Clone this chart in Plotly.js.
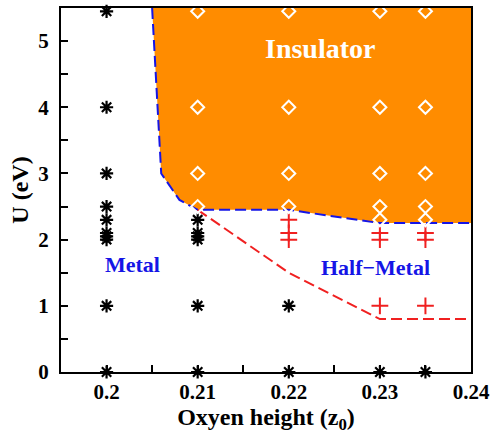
<!DOCTYPE html>
<html>
<head>
<meta charset="utf-8">
<script src="https://cdn.plot.ly/plotly-3.0.1.min.js"></script>
<style>html,body{margin:0;padding:0;background:#fff;}#chart{width:492px;height:436px;}</style>
</head>
<body>
<div id="chart"></div>
<script>
// Metal (asterisks)
var metalX = [0.2,0.2,0.2,0.2,0.2,0.2,0.2,0.2,0.2,0.2, 0.21,0.21,0.21,0.21,0.21,0.21, 0.22,0.22, 0.23, 0.235];
var metalU = [0,1,2.0,2.05,2.1,2.3,2.5,3,4,5.45, 0,1,2.0,2.05,2.1,2.3, 0,1, 0, 0];
// Half-metal (red plus)
var halfX = [0.22,0.22,0.22, 0.23,0.23,0.23, 0.235,0.235,0.235];
var halfU = [2.0,2.1,2.3, 1,2.0,2.1, 1,2.0,2.1];
// Insulator (white diamonds)
var insX = [0.21,0.21,0.21,0.21, 0.22,0.22,0.22,0.22, 0.23,0.23,0.23,0.23,0.23, 0.235,0.235,0.235,0.235,0.235];
var insU = [2.5,3,4,5.45, 2.5,3,4,5.45, 2.3,2.5,3,4,5.45, 2.3,2.5,3,4,5.45];
// Insulator boundary (blue dashed)
var blueX = [0.205,0.206,0.208,0.2095,0.21,0.22,0.23,0.24];
var blueU = [5.5,3.0,2.6,2.48,2.45,2.45,2.25,2.25];
// Half-metal / metal boundary (red dashed)
var redX = [0.21,0.22,0.23,0.24];
var redU = [2.45,1.5,0.8,0.8];
// Axis ticks
var xTickVals = [0.2,0.21,0.22,0.23,0.24];
var xTickText = ['0.2','0.21','0.22','0.23','0.24'];
var xMinor = [0.205,0.215,0.225,0.235];
var yTickVals = [0,1,2,3,4,5];
var yMinor = [0.5,1.5,2.5,3.5,4.5];
var xRange = [0.195,0.24];
var yRange = [0,5.5];

var fillX = blueX.concat([xRange[1], blueX[0]]);
var fillU = blueU.concat([yRange[1], yRange[1]]);

var serif = 'Liberation Serif, Times New Roman, serif';

var traces = [
  {x: fillX, y: fillU, type:'scatter', mode:'lines', fill:'toself', fillcolor:'#FF8C00',
   line:{width:0, color:'#FF8C00'}, hoverinfo:'skip', showlegend:false},
  {x: blueX, y: blueU, type:'scatter', mode:'lines', line:{color:'#1515E6', width:2, dash:'11px,5px'}, showlegend:false},
  {x: redX, y: redU, type:'scatter', mode:'lines', line:{color:'#F02020', width:2, dash:'11px,5px'}, showlegend:false},
  {x: metalX, y: metalU, type:'scatter', mode:'markers', cliponaxis:false,
   marker:{symbol:'asterisk-open', size:11, color:'black', line:{color:'black', width:2.2}}, showlegend:false},
  {x: halfX, y: halfU, type:'scatter', mode:'markers', cliponaxis:false,
   marker:{symbol:'cross-thin-open', size:12, color:'#F02020', line:{color:'#F02020', width:2}}, showlegend:false},
  {x: insX, y: insU, type:'scatter', mode:'markers', cliponaxis:false,
   marker:{symbol:'diamond-open', size:10, color:'white', line:{color:'white', width:2}}, showlegend:false}
];

var layout = {
  width:492, height:436,
  margin:{l:61, r:21, t:8, b:64},
  paper_bgcolor:'white', plot_bgcolor:'white',
  font:{family:serif, color:'black'},
  showlegend:false,
  xaxis:{
    range:xRange, tickmode:'array', tickvals:xTickVals, ticktext:xTickText,
    ticks:'inside', ticklen:7, tickwidth:2, tickcolor:'black',
    minor:{tickmode:'array', tickvals:xMinor, ticks:'inside', ticklen:7, tickwidth:2, tickcolor:'black'},
    showline:true, linecolor:'black', linewidth:2, mirror:true,
    showgrid:false, zeroline:false,
    tickfont:{family:serif, size:21, weight:'bold', color:'black'},
    ticklabelposition:'outside',
    ticklabelstandoff:0,
    title:{text:'Oxyen height (z<sub>0</sub>)', font:{family:serif, size:24, weight:'bold', color:'black'}, standoff:5}
  },
  yaxis:{
    range:yRange, tickmode:'array', tickvals:yTickVals,
    ticks:'inside', ticklen:7, tickwidth:2, tickcolor:'black',
    minor:{tickmode:'array', tickvals:yMinor, ticks:'inside', ticklen:7, tickwidth:2, tickcolor:'black'},
    showline:true, linecolor:'black', linewidth:2, mirror:true,
    showgrid:false, zeroline:false,
    tickfont:{family:serif, size:21, weight:'bold', color:'black'},
    ticklabelposition:'outside',
    ticklabelstandoff:6,
    automargin:true,
    title:{text:'U (eV)', font:{family:serif, size:24, weight:'bold', color:'black'}, standoff:3}
  },
  annotations:[
    {x:0.22346, y:4.89, xref:'x', yref:'y', text:'Insulator', showarrow:false,
     font:{family:serif, size:28, weight:'bold', color:'white'}},
    {x:0.2029, y:1.62, xref:'x', yref:'y', text:'Metal', showarrow:false,
     font:{family:serif, size:22, weight:'bold', color:'#1515E6'}},
    {x:0.2295, y:1.58, xref:'x', yref:'y', text:'Half\u2212Metal', showarrow:false,
     font:{family:serif, size:22, weight:'bold', color:'#1515E6'}}
  ]
};

Plotly.newPlot('chart', traces, layout, {displayModeBar:false, staticPlot:true});
</script>
</body>
</html>
